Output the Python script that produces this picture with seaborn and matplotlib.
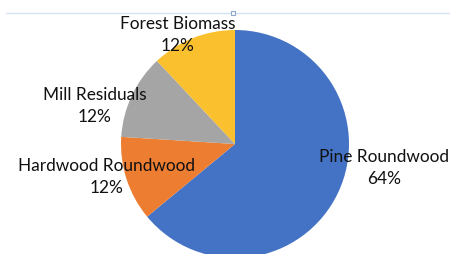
import matplotlib
matplotlib.use("Agg")
import matplotlib.pyplot as plt
import seaborn as sns
from matplotlib.lines import Line2D

# Data
categories = ["Pine Roundwood", "Hardwood Roundwood", "Mill Residuals", "Forest Biomass"]
shares = [64, 12, 12, 12]
colors = ["#4472C4", "#ED7D31", "#A5A5A5", "#FBC02D"]

sns.set_theme(style="white")
plt.rcParams["font.family"] = ["Lato", "DejaVu Sans"]

fig = plt.figure(figsize=(4.5, 2.54), dpi=100)
ax = fig.add_axes([0, 0, 1, 1])

wedges, _ = ax.pie(shares, colors=colors, startangle=90, counterclock=False,
                   center=(235, 110), radius=114, frame=True,
                   wedgeprops=dict(linewidth=0))
ax.set_xlim(0, 450)
ax.set_ylim(0, 254)
ax.set_aspect("equal")
ax.axis("off")

# label placement (pixel space, y up)
label_pos = [(384, 86), (107, 77), (95, 148), (178, 219)]
for name, val, (x, y) in zip(categories, shares, label_pos):
    ax.text(x, y, f"{name}\n{val}%", ha="center", va="center",
            fontsize=12.4, color="#111111", linespacing=1.45)

# thin guide line across the top with a small handle
y_line = 1 - 13 / 254
fig.add_artist(Line2D([6 / 450, 1], [y_line, y_line],
                      transform=fig.transFigure, color="#D6E2F3", lw=1))
fig.add_artist(Line2D([233 / 450], [y_line], transform=fig.transFigure,
                      marker="s", markersize=3.5, markerfacecolor="white",
                      markeredgecolor="#8FA6CC", markeredgewidth=0.8, lw=0))

fig.savefig("out.png", dpi=100)
